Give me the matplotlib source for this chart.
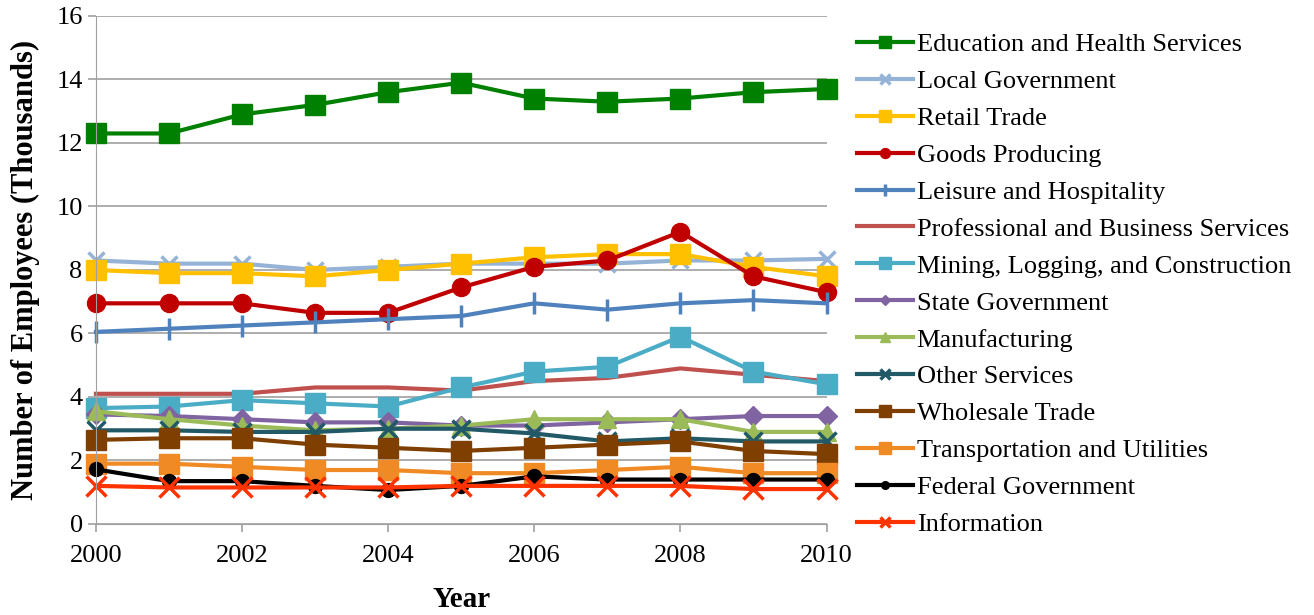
import matplotlib.pyplot as plt

years = list(range(2000, 2011))

edu = [12.3, 12.3, 12.9, 13.2, 13.6, 13.9, 13.4, 13.3, 13.4, 13.6, 13.7]
local_gov = [8.3, 8.2, 8.2, 8.0, 8.1, 8.2, 8.2, 8.2, 8.3, 8.3, 8.35]
retail = [8.0, 7.9, 7.9, 7.8, 8.0, 8.2, 8.4, 8.5, 8.5, 8.1, 7.8]
goods = [6.95, 6.95, 6.95, 6.65, 6.65, 7.45, 8.1, 8.3, 9.2, 7.8, 7.3]
leisure = [6.05, 6.15, 6.25, 6.35, 6.45, 6.55, 6.95, 6.75, 6.95, 7.05, 6.95]
professional = [4.1, 4.1, 4.1, 4.3, 4.3, 4.2, 4.5, 4.6, 4.9, 4.7, 4.5]
mining = [3.65, 3.7, 3.9, 3.8, 3.7, 4.3, 4.8, 4.95, 5.9, 4.8, 4.4]
state_gov = [3.45, 3.4, 3.3, 3.2, 3.2, 3.1, 3.1, 3.2, 3.3, 3.4, 3.4]
manufacturing = [3.55, 3.3, 3.1, 2.95, 3.0, 3.1, 3.3, 3.3, 3.3, 2.9, 2.9]
other = [2.95, 2.95, 2.9, 2.9, 3.0, 3.0, 2.85, 2.6, 2.7, 2.6, 2.6]
wholesale = [2.65, 2.7, 2.7, 2.5, 2.4, 2.3, 2.4, 2.5, 2.6, 2.3, 2.2]
transport = [1.9, 1.9, 1.8, 1.7, 1.7, 1.6, 1.6, 1.7, 1.8, 1.6, 1.6]
federal = [1.72, 1.35, 1.35, 1.2, 1.07, 1.2, 1.5, 1.4, 1.4, 1.4, 1.4]
information = [1.2, 1.15, 1.15, 1.15, 1.15, 1.2, 1.2, 1.2, 1.2, 1.1, 1.1]

plt.rcParams['font.family'] = ['Liberation Serif', 'DejaVu Serif']

fig = plt.figure(figsize=(13.14, 6.15), dpi=100)
ax = fig.add_axes([0.073, 0.148, 0.556, 0.826])

# (label, data, color, marker, markersize)
series = [
    ("Education and Health Services", edu, "#008000", "s", 15),
    ("Local Government", local_gov, "#95B3D7", "x", 12),
    ("Retail Trade", retail, "#FFC000", "s", 15),
    ("Goods Producing", goods, "#C00000", "o", 13),
    ("Leisure and Hospitality", leisure, "#4F81BD", "|", 16),
    ("Professional and Business Services", professional, "#C0504D", None, 0),
    ("Mining, Logging, and Construction", mining, "#4BACC6", "s", 15),
    ("State Government", state_gov, "#8064A2", "D", 10),
    ("Manufacturing", manufacturing, "#9BBB59", "^", 13),
    ("Other Services", other, "#215967", "x", 13),
    ("Wholesale Trade", wholesale, "#7F3F00", "s", 15),
    ("Transportation and Utilities", transport, "#F08A24", "s", 15),
    ("Federal Government", federal, "#000000", "o", 10),
    ("Information", information, "#FF3300", "x", 14),
]

for label, vals, col, mk, ms in series:
    ax.plot(years, vals, color=col, lw=3, marker=mk, markersize=ms,
            markeredgewidth=2.5 if mk in ("x", "|") else 1,
            markeredgecolor=col, label=label, clip_on=False)

ax.set_xlim(2000, 2010)
ax.set_ylim(0, 16)
ax.set_xticks(range(2000, 2011, 2))
ax.set_yticks(range(0, 17, 2))
ax.grid(axis='y', color='#A0A0A0', lw=1.2)
ax.set_axisbelow(True)
for s in ['top', 'right']:
    ax.spines[s].set_visible(False)
ax.spines['left'].set_color('#A0A0A0')
ax.spines['bottom'].set_color('#A0A0A0')
ax.tick_params(axis='both', labelsize=19, color='#A0A0A0', length=6, width=1.2)
ax.tick_params(axis='x', pad=9)
ax.set_xlabel("Year", fontsize=21, fontweight='bold', labelpad=14)
ax.set_ylabel("Number of Employees (Thousands)", fontsize=22, fontweight='bold',
              labelpad=12)

fig.legend(loc='upper left', bbox_to_anchor=(0.652, 0.947), frameon=False,
           fontsize=19, handlelength=2.15, labelspacing=0.51, markerscale=0.55,
           handletextpad=0.12, borderaxespad=0, borderpad=0)

fig.savefig("out.png", dpi=100)
